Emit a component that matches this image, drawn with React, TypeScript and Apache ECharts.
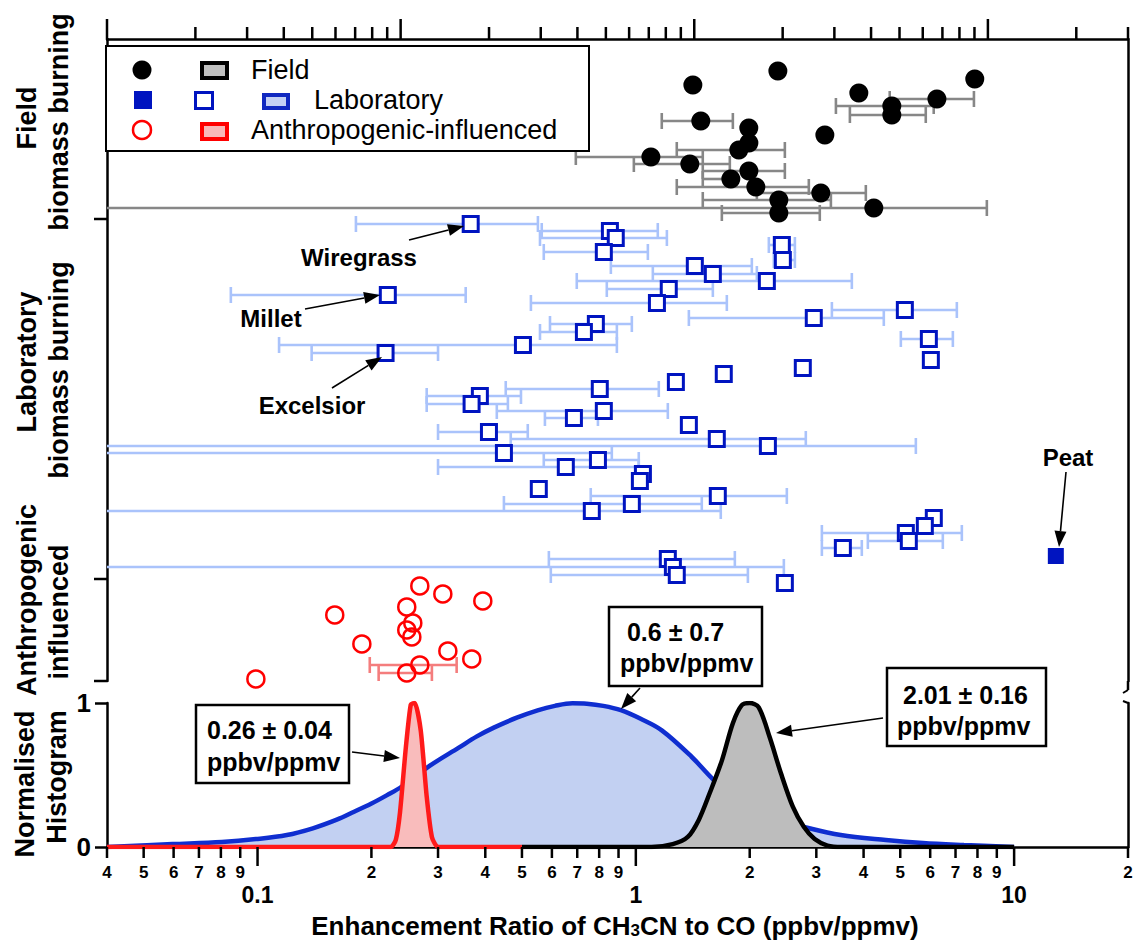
import React, { useEffect, useRef } from 'react';
import * as echarts from 'echarts';

// ---------------- data ----------------
// Field biomass burning (enhancement ratio, vertical position, error low, error high)
const fieldX = [1.415, 2.374, 7.87, 3.886, 6.25, 4.75, 4.75, 1.485, 1.989, 3.16, 1.99, 1.872, 1.096, 1.389, 1.99, 1.783, 2.076, 3.083, 2.388, 4.257, 2.388];
const fieldY = [4.6, 3.2, 4.0, 5.4, 6.0, 6.7, 7.6, 8.2, 8.9, 9.6, 10.4, 11.1, 11.8, 12.5, 13.2, 14.0, 14.8, 15.4, 16.1, 16.9, 17.4];
const fieldLo = [null, null, null, null, 4.69, 3.38, 3.68, 1.171, null, null, null, 1.283, 0.694, 0.988, 1.503, 1.503, 1.283, 2.089, 1.503, 0.02, 1.688];
const fieldHi = [null, null, null, null, 7.83, 6.13, 5.84, 1.805, null, null, null, 2.477, 1.503, 1.772, 2.477, 1.78, 2.866, 4.055, 3.278, 8.47, 3.064];

// Laboratory biomass burning
const labX = [0.366, 0.854, 0.885, 2.432, 0.823, 2.447, 1.432, 1.598, 2.22, 1.222, 0.221, 1.137, 5.142, 2.954, 0.784, 0.729, 5.951, 0.503, 0.218, 6.024, 2.763, 1.708, 1.276, 0.803, 0.387, 0.368, 0.823, 0.686, 1.381, 0.409, 1.637, 2.234, 0.448, 0.794, 0.653, 1.044, 1.025, 0.554, 1.647, 0.976, 0.765, 6.133, 5.807, 5.173, 5.268, 3.526, 1.215, 1.253, 1.283, 2.477];
const labY = [18.5, 19.2, 19.9, 20.6, 21.3, 22.1, 22.7, 23.5, 24.2, 25.0, 25.6, 26.4, 27.1, 27.9, 28.5, 29.3, 30.0, 30.6, 31.4, 32.1, 32.9, 33.5, 34.3, 35.0, 35.7, 36.5, 37.2, 37.9, 38.6, 39.3, 40.0, 40.7, 41.4, 42.1, 42.8, 43.5, 44.2, 45.0, 45.7, 46.5, 47.2, 47.9, 48.7, 49.4, 50.2, 50.9, 52.0, 52.8, 53.6, 54.4];
const labLo = [0.182, 0.564, 0.558, 2.247, 0.571, 2.316, 0.859, 1.109, 0.698, 0.838, 0.085, 0.528, 3.298, 1.381, 0.593, 0.558, 5.018, 0.114, 0.139, null, null, null, null, 0.453, 0.28, 0.28, 0.429, 0.575, null, 0.3, 0.467, 0.02, 0.02, 0.571, 0.3, null, null, null, 0.76, 0.448, 0.02, null, null, 3.103, 4.105, 3.103, 0.589, 0.02, 0.596, null];
const labHi = [0.551, 1.143, 1.208, 2.633, 1.076, 2.633, 2.026, 2.089, 3.724, 1.598, 0.355, 1.74, 7.056, 4.524, 0.976, 0.891, 6.887, 0.891, 0.3, null, null, null, null, 1.15, 0.497, 0.459, 1.215, 0.794, null, 0.518, 2.814, 5.498, 0.864, 1.018, 1.018, null, null, null, 2.507, 1.494, 1.677, null, null, 7.274, 6.479, 3.957, 1.827, 2.462, 1.978, null];

// Peat (laboratory, filled marker)
const peatX = [12.89];
const peatY = [51.7];

// Anthropogenic-influenced
const anthroX = [0.2685, 0.3089, 0.394, 0.248, 0.16, 0.2573, 0.248, 0.2558, 0.1887, 0.3185, 0.3684, 0.2685, 0.248, 0.099];
const anthroY = [54.7, 55.5, 56.2, 56.8, 57.6, 58.4, 59.1, 59.8, 60.5, 61.2, 62.0, 62.6, 63.4, 64.0];
const anthroLo = [null, null, null, null, null, null, null, null, null, null, null, 0.198, 0.209, null];
const anthroHi = [null, null, null, null, null, null, null, null, null, null, null, 0.336, 0.289, null];

// Normalised histograms
const labHistX = [0.04, 0.0596, 0.0805, 0.099, 0.1195, 0.14, 0.162, 0.18, 0.1995, 0.22, 0.2406, 0.2837, 0.3405, 0.38, 0.4214, 0.4846, 0.55, 0.611, 0.68, 0.742, 0.82, 0.913, 1.03, 1.171, 1.406, 1.607, 1.929, 2.3, 2.781, 3.48, 4.58, 5.74, 7.37, 10];
const labHistY = [0, 0.02, 0.035, 0.055, 0.083, 0.13, 0.19, 0.245, 0.3, 0.36, 0.42, 0.56, 0.69, 0.768, 0.829, 0.898, 0.949, 0.98, 0.998, 0.995, 0.98, 0.95, 0.89, 0.81, 0.625, 0.465, 0.29, 0.2, 0.14, 0.083, 0.049, 0.028, 0.014, 0];
const anthroHistX = [0.04, 0.225, 0.232, 0.238, 0.2466, 0.2542, 0.2604, 0.27, 0.28, 0.289, 0.3, 0.5];
const anthroHistY = [0, 0, 0.05, 0.24, 0.69, 0.99, 1.0, 0.81, 0.35, 0.07, 0, 0];
const fieldHistX = [0.5, 1.1, 1.252, 1.372, 1.468, 1.568, 1.688, 1.805, 1.906, 2.0, 2.113, 2.26, 2.42, 2.6, 2.78, 2.97, 3.21, 3.5, 10];
const fieldHistY = [0, 0, 0.02, 0.07, 0.19, 0.375, 0.6, 0.86, 0.985, 1.0, 0.97, 0.76, 0.51, 0.28, 0.14, 0.055, 0.01, 0, 0];

// Axis ticks
const bottomTicks = [0.04, 0.05, 0.06, 0.07, 0.08, 0.09, 0.1, 0.2, 0.3, 0.4, 0.5, 0.6, 0.7, 0.8, 0.9, 1, 2, 3, 4, 5, 6, 7, 8, 9, 10, 20];
const bottomTickLabels = ['4', '5', '6', '7', '8', '9', '0.1', '2', '3', '4', '5', '6', '7', '8', '9', '1', '2', '3', '4', '5', '6', '7', '8', '9', '10', '2'];
const bottomMajor = [0.1, 1, 10];
const topTicks = [0.01, 0.02, 0.03, 0.04, 0.05, 0.06, 0.07, 0.08, 0.09, 0.1, 0.2, 0.3, 0.4, 0.5, 0.6, 0.7, 0.8, 0.9, 1, 2, 3, 4, 5, 6, 7, 8, 9, 10, 20, 30];
const topMajor = [0.01, 0.1, 1, 10];
const sectionTicks = [18, 54, 64.2];

// ---------------- styling ----------------
const FONT = "'Liberation Sans', Arial, Helvetica, sans-serif";
const LAB_BLUE = '#0014c0';

function errData(xs: number[], ys: number[], lo: (number | null)[], hi: (number | null)[]) {
  const out: number[][] = [];
  xs.forEach((x, i) => {
    if (lo[i] != null && hi[i] != null) out.push([x, ys[i], lo[i] as number, hi[i] as number]);
  });
  return out;
}

function errSeries(data: number[][], color: string, cap: number) {
  return {
    type: 'custom',
    xAxisIndex: 0,
    yAxisIndex: 0,
    clip: true,
    z: 2,
    encode: { x: 0, y: 1 },
    data,
    renderItem: (params: any, api: any) => {
      const y = api.value(1);
      const lo = api.value(2);
      const hi = api.value(3);
      const a = api.coord([lo, y]);
      const b = api.coord([hi, y]);
      const st = { stroke: color, lineWidth: 2.6 };
      return {
        type: 'group',
        children: [
          { type: 'line', shape: { x1: a[0], y1: a[1], x2: b[0], y2: b[1] }, style: st },
          { type: 'line', shape: { x1: a[0], y1: a[1] - cap, x2: a[0], y2: a[1] + cap }, style: st },
          { type: 'line', shape: { x1: b[0], y1: b[1] - cap, x2: b[0], y2: b[1] + cap }, style: st },
        ],
      };
    },
  };
}

function arrow(x1: number, y1: number, x2: number, y2: number) {
  const dx = x2 - x1;
  const dy = y2 - y1;
  const L = Math.hypot(dx, dy);
  const ux = dx / L;
  const uy = dy / L;
  const hl = 16;
  const hw = 6;
  const bx = x2 - ux * hl;
  const by = y2 - uy * hl;
  return [
    { type: 'line', z: 100, shape: { x1, y1, x2: bx, y2: by }, style: { stroke: '#000', lineWidth: 1.6 } },
    {
      type: 'polygon',
      z: 100,
      shape: { points: [[x2, y2], [bx - uy * hw, by + ux * hw], [bx + uy * hw, by - ux * hw]] },
      style: { fill: '#000' },
    },
  ];
}

function txt(text: string, x: number, y: number, size: number, bold: boolean, align = 'center', rotation = 0) {
  return {
    type: 'text',
    z: 101,
    x,
    y,
    rotation,
    style: {
      text,
      fill: '#000',
      fontSize: size,
      fontWeight: bold ? 'bold' : 'normal',
      fontFamily: FONT,
      align,
      verticalAlign: 'middle',
    },
  };
}

function box(x: number, y: number, w: number, h: number, lines: string[], tx: number[], ty: number[]) {
  return [
    { type: 'rect', z: 99, shape: { x, y, width: w, height: h }, style: { fill: '#fff', stroke: '#000', lineWidth: 2.5 } },
    txt(lines[0], tx[0], ty[0], 25, true, 'left'),
    txt(lines[1], tx[1], ty[1], 25, true, 'left'),
  ];
}

const axisLineStyle = { show: true, onZero: false, lineStyle: { color: '#000', width: 2.5 } };

function buildOption() {
  const graphics: any[] = [];
  // legend
  graphics.push(
    { type: 'rect', z: 100, shape: { x: 106, y: 46, width: 483, height: 105 }, style: { fill: '#fff', stroke: '#000', lineWidth: 2 } },
    { type: 'circle', z: 101, shape: { cx: 142, cy: 70, r: 9.5 }, style: { fill: '#000' } },
    { type: 'rect', z: 101, shape: { x: 202, y: 63, width: 25, height: 15 }, style: { fill: '#c0c0c0', stroke: '#000', lineWidth: 4 } },
    txt('Field', 251, 70, 27, false, 'left'),
    { type: 'rect', z: 101, shape: { x: 134, y: 91, width: 18, height: 18 }, style: { fill: LAB_BLUE } },
    { type: 'rect', z: 101, shape: { x: 195.5, y: 92.5, width: 17, height: 16 }, style: { fill: '#fff', stroke: LAB_BLUE, lineWidth: 3 } },
    { type: 'rect', z: 101, shape: { x: 264, y: 95, width: 24, height: 13 }, style: { fill: '#c4d0f4', stroke: '#1028c0', lineWidth: 4 } },
    txt('Laboratory', 314, 100, 27, false, 'left'),
    { type: 'circle', z: 101, shape: { cx: 142, cy: 130, r: 9 }, style: { fill: '#fff', stroke: '#ff0000', lineWidth: 2.5 } },
    { type: 'rect', z: 101, shape: { x: 202, y: 124, width: 25, height: 15 }, style: { fill: '#f8b8b8', stroke: '#ff0000', lineWidth: 4 } },
    txt('Anthropogenic-influenced', 251, 130, 27, false, 'left'),
  );
  // rotated category labels
  const rot = Math.PI / 2;
  graphics.push(
    txt('Field', 27, 118, 27, true, 'center', rot),
    txt('biomass burning', 59, 122, 27, true, 'center', rot),
    txt('Laboratory', 27, 362, 27, true, 'center', rot),
    txt('biomass burning', 59, 370, 27, true, 'center', rot),
    txt('Anthropogenic', 27, 600, 27, true, 'center', rot),
    txt('influenced', 59, 612, 27, true, 'center', rot),
    txt('Normalised', 25, 784, 27, true, 'center', rot),
    txt('Histogram', 57, 777, 27, true, 'center', rot),
  );
  // point annotations
  graphics.push(
    txt('Wiregrass', 359, 257, 24, true),
    ...arrow(409, 240, 464, 226),
    txt('Millet', 271, 318, 24, true),
    ...arrow(305, 309, 380, 295),
    txt('Excelsior', 312, 405, 24, true),
    ...arrow(332, 388, 382, 357),
    txt('Peat', 1068, 457, 24, true),
    ...arrow(1066, 472, 1059, 547),
  );
  // histogram annotation boxes
  graphics.push(
    ...box(196, 705, 153, 78, ['0.26 ± 0.04', 'ppbv/ppmv'], [207, 207], [730, 762]),
    ...arrow(352, 752, 400, 758),
    ...box(609, 607, 153, 79, [' 0.6 ± 0.7', 'ppbv/ppmv'], [620, 620], [632, 663]),
    ...arrow(640, 688, 621, 709),
    ...box(887, 668, 159, 78, ['2.01 ± 0.16', 'ppbv/ppmv'], [903, 897], [695, 726]),
    ...arrow(883, 718, 776, 733),
  );
  // right-edge break marks
  graphics.push(
    { type: 'line', z: 50, shape: { x1: 1128, y1: 681, x2: 1128, y2: 690 }, style: { stroke: '#000', lineWidth: 2.5 } },
    { type: 'line', z: 50, shape: { x1: 1128, y1: 690, x2: 1123, y2: 693 }, style: { stroke: '#000', lineWidth: 2 } },
    { type: 'line', z: 50, shape: { x1: 1128, y1: 703, x2: 1123, y2: 701 }, style: { stroke: '#000', lineWidth: 2 } },
  );
  // x-axis title with subscript
  graphics.push({
    type: 'text',
    z: 101,
    x: 615,
    y: 926,
    style: {
      text: '{a|Enhancement Ratio of CH}{s|3}{a|CN to CO (ppbv/ppmv)}',
      align: 'center',
      verticalAlign: 'middle',
      fill: '#000',
      rich: {
        a: { fontSize: 26, fontWeight: 'bold', fontFamily: FONT, lineHeight: 26, verticalAlign: 'bottom', fill: '#000' },
        s: { fontSize: 17, fontWeight: 'bold', fontFamily: FONT, lineHeight: 4, verticalAlign: 'bottom', fill: '#000' },
      },
    },
  });

  const hidden = { axisTick: { show: false }, axisLabel: { show: false }, splitLine: { show: false } };

  return {
    animation: false,
    backgroundColor: '#fff',
    grid: [
      { left: 107, top: 39, width: 1021, height: 642 },
      { left: 107, top: 703, width: 1021, height: 144 },
    ],
    xAxis: [
      { gridIndex: 0, type: 'log', min: 0.04, max: 20, position: 'bottom', show: false },
      { gridIndex: 0, type: 'log', min: 0.01, max: 30, position: 'top', axisLine: axisLineStyle, ...hidden },
      { gridIndex: 1, type: 'log', min: 0.04, max: 20, position: 'bottom', axisLine: axisLineStyle, ...hidden },
    ],
    yAxis: [
      { gridIndex: 0, type: 'value', inverse: true, min: 0, max: 64.2, position: 'left', axisLine: axisLineStyle, ...hidden },
      { gridIndex: 0, type: 'value', inverse: true, min: 0, max: 64.2, position: 'right', axisLine: axisLineStyle, ...hidden },
      {
        gridIndex: 1,
        type: 'value',
        min: 0,
        max: 1,
        interval: 1,
        position: 'left',
        axisLine: axisLineStyle,
        axisTick: { show: true, length: 12, lineStyle: { color: '#000', width: 2.5 } },
        axisLabel: { show: true, fontSize: 26, fontWeight: 'bold', fontFamily: FONT, color: '#000', margin: 16 },
        splitLine: { show: false },
      },
      { gridIndex: 1, type: 'value', min: 0, max: 1, position: 'right', axisLine: axisLineStyle, ...hidden },
    ],
    graphic: { elements: graphics },
    series: [
      errSeries(errData(fieldX, fieldY, fieldLo, fieldHi), '#878787', 8),
      errSeries(errData(labX, labY, labLo, labHi), '#aac3fb', 8),
      errSeries(errData(anthroX, anthroY, anthroLo, anthroHi), '#f47d7d', 8),
      {
        type: 'scatter',
        xAxisIndex: 0,
        yAxisIndex: 0,
        z: 3,
        symbol: 'rect',
        symbolSize: 15,
        itemStyle: { color: '#fff', borderColor: LAB_BLUE, borderWidth: 3, opacity: 1 },
        data: labX.map((x, i) => [x, labY[i]]),
      },
      {
        type: 'scatter',
        xAxisIndex: 0,
        yAxisIndex: 0,
        z: 4,
        symbol: 'circle',
        symbolSize: 19,
        itemStyle: { color: '#000', opacity: 1 },
        data: fieldX.map((x, i) => [x, fieldY[i]]),
      },
      {
        type: 'scatter',
        xAxisIndex: 0,
        yAxisIndex: 0,
        z: 4,
        symbol: 'circle',
        symbolSize: 17,
        itemStyle: { color: 'rgba(255,255,255,0)', borderColor: '#ff0000', borderWidth: 2.5, opacity: 1 },
        data: anthroX.map((x, i) => [x, anthroY[i]]),
      },
      {
        type: 'scatter',
        xAxisIndex: 0,
        yAxisIndex: 0,
        z: 4,
        symbol: 'rect',
        symbolSize: 16,
        itemStyle: { color: LAB_BLUE, opacity: 1 },
        data: peatX.map((x, i) => [x, peatY[i]]),
      },
      // top axis ticks
      {
        type: 'custom',
        xAxisIndex: 1,
        yAxisIndex: 0,
        clip: false,
        z: 5,
        data: topTicks.map((v) => [v, 0]),
        encode: { x: 0, y: 1 },
        renderItem: (params: any, api: any) => {
          const v = topTicks[params.dataIndex];
          const p = api.coord([v, 0]);
          const len = topMajor.indexOf(v) >= 0 ? 20 : 12;
          return { type: 'line', shape: { x1: p[0], y1: p[1], x2: p[0], y2: p[1] - len }, style: { stroke: '#000', lineWidth: 2.5 } };
        },
      },
      // left section ticks (top panel)
      {
        type: 'custom',
        xAxisIndex: 0,
        yAxisIndex: 0,
        clip: false,
        z: 5,
        data: sectionTicks.map((v) => [0.04, v]),
        encode: { x: 0, y: 1 },
        renderItem: (params: any, api: any) => {
          const p = api.coord([0.04, sectionTicks[params.dataIndex]]);
          return { type: 'line', shape: { x1: p[0], y1: p[1], x2: p[0] - 13, y2: p[1] }, style: { stroke: '#000', lineWidth: 2.5 } };
        },
      },
      // bottom axis ticks & labels
      {
        type: 'custom',
        xAxisIndex: 2,
        yAxisIndex: 2,
        clip: false,
        z: 5,
        data: bottomTicks.map((v) => [v, 0]),
        encode: { x: 0, y: 1 },
        renderItem: (params: any, api: any) => {
          const i = params.dataIndex;
          const v = bottomTicks[i];
          const p = api.coord([v, 0]);
          const major = bottomMajor.indexOf(v) >= 0;
          const len = major ? 19 : 11;
          return {
            type: 'group',
            children: [
              { type: 'line', shape: { x1: p[0], y1: p[1], x2: p[0], y2: p[1] + len }, style: { stroke: '#000', lineWidth: 2.5 } },
              {
                type: 'text',
                x: p[0],
                y: p[1] + (major ? 48 : 25),
                style: {
                  text: bottomTickLabels[i],
                  fill: '#000',
                  fontSize: major ? 23 : 17,
                  fontWeight: 'bold',
                  fontFamily: FONT,
                  align: 'center',
                  verticalAlign: 'middle',
                },
              },
            ],
          };
        },
      },
      // histograms
      {
        type: 'line',
        xAxisIndex: 2,
        yAxisIndex: 2,
        z: 2,
        smooth: 0.35,
        symbol: 'none',
        lineStyle: { color: '#0f2ed0', width: 4.5 },
        areaStyle: { color: '#c2d0f2', opacity: 1 },
        data: labHistX.map((x, i) => [x, labHistY[i]]),
      },
      {
        type: 'line',
        xAxisIndex: 2,
        yAxisIndex: 2,
        z: 3,
        smooth: 0.3,
        symbol: 'none',
        lineStyle: { color: '#000', width: 4.5 },
        areaStyle: { color: '#bdbdbd', opacity: 1 },
        data: fieldHistX.map((x, i) => [x, fieldHistY[i]]),
      },
      {
        type: 'line',
        xAxisIndex: 2,
        yAxisIndex: 2,
        z: 4,
        smooth: 0.2,
        symbol: 'none',
        lineStyle: { color: '#ff1a1a', width: 4.5 },
        areaStyle: { color: '#f9bcbc', opacity: 1 },
        data: anthroHistX.map((x, i) => [x, anthroHistY[i]]),
      },
    ],
  };
}

export default function App() {
  const ref = useRef<HTMLDivElement>(null);
  useEffect(() => {
    if (!ref.current) return;
    const chart = echarts.init(ref.current, null, { renderer: 'svg' });
    chart.setOption(buildOption() as any);
    return () => chart.dispose();
  }, []);
  return (
    <div
      ref={ref}
      style={{ position: 'absolute', left: 0, top: 0, width: 1135, height: 943, background: '#fff' }}
    />
  );
}
